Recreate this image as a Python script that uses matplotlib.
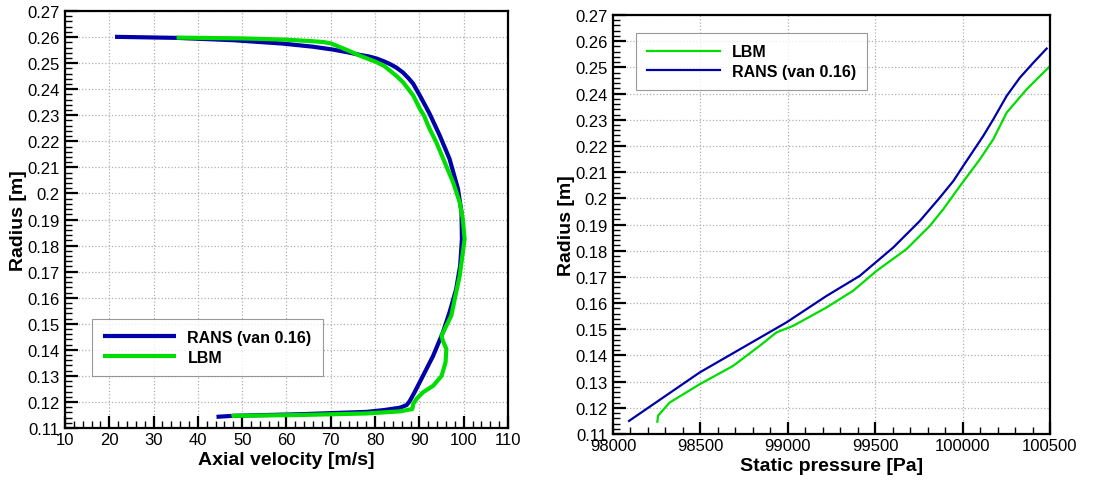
import numpy as np
import matplotlib
matplotlib.use("Agg")
import matplotlib.pyplot as plt
from matplotlib.ticker import MultipleLocator, FuncFormatter

plt.rcParams['font.family'] = ['Liberation Sans', 'DejaVu Sans']

# Perfil de velocidad axial (RANS)
rans_vel = [21.3, 35.2, 48.0, 59.2, 66.0, 70.5, 74.0, 76.5, 78.5, 80.3, 82.0, 83.3,
            84.8, 86.3, 87.5, 88.6, 90.1, 92.3, 94.6, 96.8, 98.7, 99.5, 99.6, 99.2,
            98.3, 96.8, 95.3, 93.1, 90.8, 88.9, 87.8, 87.1, 85.6, 82.0, 78.0, 63.0,
            48.0, 44.2]
rans_vel_r = [0.2601, 0.2597, 0.2588, 0.2575, 0.2563, 0.2552, 0.2541, 0.2532, 0.2526,
              0.2518, 0.2507, 0.2497, 0.2483, 0.2464, 0.2443, 0.2421, 0.2376, 0.2306,
              0.2222, 0.2133, 0.2018, 0.1928, 0.1825, 0.1723, 0.1633, 0.1544, 0.1467,
              0.1377, 0.1300, 0.1237, 0.1203, 0.1188, 0.1178, 0.1169, 0.1162, 0.1153,
              0.1147, 0.1143]

# Perfil de velocidad axial (LBM)
lbm_vel = [35.2, 50.0, 60.0, 66.0, 68.3, 70.0, 71.3, 74.0, 76.5, 78.5, 80.3, 82.0,
           83.3, 84.8, 86.3, 88.6, 90.1, 91.0, 92.3, 93.8, 95.7, 97.6, 99.1, 99.8,
           100.2, 99.8, 99.1, 98.3, 97.2, 96.1, 95.0, 95.3, 96.1, 95.9, 95.0, 93.1,
           90.8, 89.3, 88.6, 88.4, 85.6, 78.0, 63.0, 48.0, 47.6]
lbm_vel_r = [0.2598, 0.2595, 0.2590, 0.2584, 0.2581, 0.2576, 0.2567, 0.2548, 0.2529,
             0.2516, 0.2504, 0.2490, 0.2472, 0.2451, 0.2427, 0.2376, 0.2325, 0.2300,
             0.2248, 0.2197, 0.2120, 0.2043, 0.1966, 0.1902, 0.1825, 0.1774, 0.1685,
             0.1621, 0.1531, 0.1493, 0.1454, 0.1435, 0.1403, 0.1352, 0.1300, 0.1262,
             0.1237, 0.1211, 0.1192, 0.1173, 0.1164, 0.1156, 0.1150, 0.1147, 0.1145]

# Presion estatica (RANS)
rans_p = [98092, 98496, 98992, 99221, 99412, 99603, 99756, 99870, 99947, 100004,
          100118, 100176, 100252, 100328, 100405, 100481]
rans_p_r = [0.1150, 0.1335, 0.1526, 0.1627, 0.1704, 0.1812, 0.1914, 0.2003, 0.2066,
            0.2124, 0.2238, 0.2302, 0.2391, 0.2461, 0.2518, 0.2572]

# Presion estatica (LBM)
lbm_p = [98254, 98258, 98324, 98496, 98687, 98840, 98935, 99031, 99221, 99374, 99508,
         99679, 99813, 99889, 99985, 100099, 100176, 100252, 100366, 100500]
lbm_p_r = [0.1147, 0.1170, 0.1220, 0.1290, 0.1360, 0.1437, 0.1488, 0.1513, 0.1583,
           0.1647, 0.1723, 0.1806, 0.1895, 0.1958, 0.2047, 0.2149, 0.2226, 0.2327,
           0.2416, 0.2505]

BLUE = "#0000a8"
GREEN = "#00dd00"


def estilo(ax, xmaj, xmin):
    # Estilo tipo Tecplot: ticks hacia dentro, rejilla punteada
    ax.set_ylim(0.11, 0.27)
    ax.yaxis.set_major_locator(MultipleLocator(0.01))
    ax.yaxis.set_minor_locator(MultipleLocator(0.002))
    ax.xaxis.set_major_locator(MultipleLocator(xmaj))
    ax.xaxis.set_minor_locator(MultipleLocator(xmin))
    ax.yaxis.set_major_formatter(FuncFormatter(lambda v, p: "%g" % round(v, 3)))
    ax.xaxis.set_major_formatter(FuncFormatter(lambda v, p: "%g" % round(v, 3)))
    ax.tick_params(which="major", direction="in", length=9, width=1.6, labelsize=12)
    ax.tick_params(axis="x", which="major", pad=3)
    ax.tick_params(axis="y", which="major", pad=4)
    ax.tick_params(which="minor", direction="in", length=5, width=1.0)
    for s in ax.spines.values():
        s.set_linewidth(1.6)
    ax.grid(True, which="major", linestyle=":", color="#b0b0b0", linewidth=0.9)
    ax.set_ylabel("Radius [m]", fontsize=14, fontweight="bold", labelpad=0)


fig = plt.figure(figsize=(11.07, 4.81), dpi=100)

# Velocidad axial
ax1 = fig.add_axes([0.0587, 0.108, 0.4002, 0.867])
ax1.plot(rans_vel, rans_vel_r, color=BLUE, lw=3.0, label="RANS (van 0.16)",
         solid_capstyle="butt")
ax1.plot(lbm_vel, lbm_vel_r, color=GREEN, lw=3.0, label="LBM", solid_capstyle="butt")
ax1.set_xlim(10, 110)
estilo(ax1, 10, 2)
ax1.set_xlabel("Axial velocity [m/s]", fontsize=14, fontweight="bold", labelpad=3)
leg1 = ax1.legend(loc="lower left", bbox_to_anchor=(0.06, 0.125), borderaxespad=0,
                  fancybox=False, edgecolor="#808080", handlelength=4.6,
                  handletextpad=0.7, prop={"weight": "bold", "size": 11.5},
                  borderpad=0.7, labelspacing=0.3)
leg1.get_frame().set_linewidth(0.8)

# Presion estatica
ax2 = fig.add_axes([0.5537, 0.0956, 0.3948, 0.8711])
ax2.plot(lbm_p, lbm_p_r, color=GREEN, lw=1.6, label="LBM")
ax2.plot(rans_p, rans_p_r, color=BLUE, lw=1.6, label="RANS (van 0.16)")
ax2.set_xlim(98000, 100500)
estilo(ax2, 500, 100)
ax2.set_xlabel("Static pressure [Pa]", fontsize=14, fontweight="bold", labelpad=3)
leg2 = ax2.legend(loc="upper left", bbox_to_anchor=(0.052, 0.957), borderaxespad=0,
                  fancybox=False, edgecolor="#808080", handlelength=4.6,
                  handletextpad=0.7, prop={"weight": "bold", "size": 11.5},
                  borderpad=0.7, labelspacing=0.3)
leg2.get_frame().set_linewidth(0.8)

fig.savefig("out.png", dpi=100)
